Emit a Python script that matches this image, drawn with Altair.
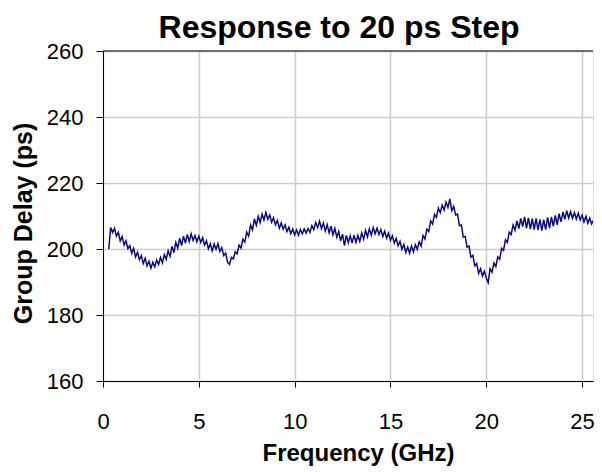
import altair as alt
import pandas as pd

title_text = "Response to 20 ps Step"
x_title = "Frequency (GHz)"
y_title = "Group Delay (ps)"
x_ticks = [0, 5, 10, 15, 20, 25]
y_ticks = [160, 180, 200, 220, 240, 260]
y_top = [260]

freq = [
    0.3, 0.4, 0.5, 0.6, 0.7, 0.8, 0.9,
    1.0, 1.1, 1.2, 1.3, 1.4, 1.5, 1.6, 1.7, 1.8, 1.9,
    2.0, 2.1, 2.2, 2.3, 2.4, 2.5, 2.6, 2.7, 2.8, 2.9,
    3.0, 3.1, 3.2, 3.3, 3.4, 3.5, 3.6, 3.7, 3.8, 3.9,
    4.0, 4.1, 4.2, 4.3, 4.4, 4.5, 4.6, 4.7, 4.8, 4.9,
    5.0, 5.1, 5.2, 5.3, 5.4, 5.5, 5.6, 5.7, 5.8, 5.9,
    6.0, 6.1, 6.2, 6.3, 6.4, 6.5, 6.6, 6.7, 6.8, 6.9,
    7.0, 7.1, 7.2, 7.3, 7.4, 7.5, 7.6, 7.7, 7.8, 7.9,
    8.0, 8.1, 8.2, 8.3, 8.4, 8.5, 8.6, 8.7, 8.8, 8.9,
    9.0, 9.1, 9.2, 9.3, 9.4, 9.5, 9.6, 9.7, 9.8, 9.9,
    10.0, 10.1, 10.2, 10.3, 10.4, 10.5, 10.6, 10.7, 10.8, 10.9,
    11.0, 11.1, 11.2, 11.3, 11.4, 11.5, 11.6, 11.7, 11.8, 11.9,
    12.0, 12.1, 12.2, 12.3, 12.4, 12.5, 12.6, 12.7, 12.8, 12.9,
    13.0, 13.1, 13.2, 13.3, 13.4, 13.5, 13.6, 13.7, 13.8, 13.9,
    14.0, 14.1, 14.2, 14.3, 14.4, 14.5, 14.6, 14.7, 14.8, 14.9,
    15.0, 15.1, 15.2, 15.3, 15.4, 15.5, 15.6, 15.7, 15.8, 15.9,
    16.0, 16.1, 16.2, 16.3, 16.4, 16.5, 16.6, 16.7, 16.8, 16.9,
    17.0, 17.1, 17.2, 17.3, 17.4, 17.5, 17.6, 17.7, 17.8, 17.9,
    18.0, 18.1, 18.2, 18.3, 18.4, 18.5, 18.6, 18.7, 18.8, 18.9,
    19.0, 19.1, 19.2, 19.3, 19.4, 19.5, 19.6, 19.7, 19.8, 19.9,
    20.0, 20.1, 20.2, 20.3, 20.4, 20.5, 20.6, 20.7, 20.8, 20.9,
    21.0, 21.1, 21.2, 21.3, 21.4, 21.5, 21.6, 21.7, 21.8, 21.9,
    22.0, 22.1, 22.2, 22.3, 22.4, 22.5, 22.6, 22.7, 22.8, 22.9,
    23.0, 23.1, 23.2, 23.3, 23.4, 23.5, 23.6, 23.7, 23.8, 23.9,
    24.0, 24.1, 24.2, 24.3, 24.4, 24.5, 24.6, 24.7, 24.8, 24.9,
    25.0, 25.1, 25.2, 25.3, 25.4, 25.5, 25.6, 25.7,
]

delay = [
    200.0, 206.5, 205.0, 206.3, 203.9, 205.0, 202.4,
    203.8, 201.2, 202.5, 200.1, 201.0, 198.7, 200.2, 197.6, 199.0, 196.8,
    198.0, 195.6, 197.2, 194.9, 196.3, 194.2, 196.0, 194.6, 196.6, 195.3,
    197.4, 195.8, 198.3, 196.9, 199.5, 197.8, 200.8, 198.9, 202.0, 200.3,
    203.3, 201.0, 203.9, 201.8, 204.4, 202.3, 204.6, 202.6, 204.1, 202.2,
    203.9, 202.0, 203.4, 201.2, 202.5, 200.1, 201.6, 199.4, 201.5, 199.9,
    201.6, 199.3, 200.4, 198.0, 198.8, 196.0, 195.3, 197.5, 197.0, 199.2,
    198.6, 201.2, 200.3, 203.0, 202.1, 205.1, 203.9, 207.2, 205.8, 209.1,
    207.2, 209.9, 208.0, 210.6, 208.8, 211.1, 209.0, 210.3, 208.1, 209.5,
    207.3, 208.7, 206.3, 207.9, 206.0, 207.3, 205.3, 206.6, 204.6, 206.0,
    204.3, 205.8, 204.2, 205.9, 204.6, 206.1, 204.8, 206.2, 205.0, 207.1,
    205.9, 208.0, 206.5, 208.4, 206.2, 207.9, 205.5, 207.4, 204.9, 206.9,
    204.3, 206.2, 203.6, 205.3, 202.5, 204.5, 201.0, 204.1, 202.0, 204.0,
    201.8, 204.2, 202.0, 204.1, 202.3, 204.9, 203.0, 205.6, 203.7, 206.1,
    204.2, 206.5, 204.6, 206.3, 204.4, 205.9, 203.8, 205.4, 203.3, 204.8,
    202.6, 204.0, 201.8, 203.2, 201.0, 202.3, 199.9, 201.4, 199.0, 200.6,
    198.7, 200.9, 199.2, 201.3, 199.9, 202.2, 200.9, 204.1, 203.0, 206.0,
    205.3, 208.5, 207.6, 210.5, 209.6, 212.4, 211.0, 213.3, 211.8, 214.2,
    212.6, 215.2, 211.6, 212.9, 210.3, 210.6, 207.1, 207.2, 203.6, 203.8,
    200.6, 200.9, 197.5, 198.1, 194.9, 195.6, 192.6, 194.0, 191.8, 193.3,
    191.2, 189.8, 194.0, 193.0, 195.8, 194.7, 197.6, 196.9, 200.2, 199.6,
    202.8, 202.0, 205.1, 204.4, 207.3, 205.7, 208.5, 206.2, 209.3, 206.8,
    209.7, 206.3, 209.4, 206.0, 209.2, 205.9, 209.3, 205.8, 209.0, 205.6,
    208.9, 205.9, 209.6, 206.3, 209.7, 206.9, 210.2, 207.3, 210.7, 208.2,
    211.2, 209.0, 211.6, 209.4, 211.3, 209.3, 211.0, 209.1, 210.9, 208.8,
    210.3, 208.2, 209.9, 207.8, 209.3, 207.6, 208.8, 207.9,
]

df = pd.DataFrame({"freq": freq, "delay": delay})
top_df = pd.DataFrame({"delay": y_top})

FONT = "Liberation Sans"

x_enc = alt.X(
    "freq:Q",
    scale=alt.Scale(domain=[0, 25.57], nice=False, zero=False),
    axis=alt.Axis(
        values=x_ticks,
        title=x_title,
        titleFontSize=24,
        titleFont=FONT,
        titleFontWeight="bold",
        titleColor="black",
        titleX=255,
        titleY=72,
        titleBaseline="middle",
        titleAlign="center",
        labelFontSize=22,
        labelFont=FONT,
        labelColor="black",
        labelPadding=24,
        tickSize=6,
        tickColor="black",
        domainColor="black",
        gridColor="#cccccc",
        gridWidth=1.5,
        labelFlush=False,
    ),
)

y_enc = alt.Y(
    "delay:Q",
    scale=alt.Scale(domain=[160, 260], nice=False, zero=False),
    axis=alt.Axis(
        values=y_ticks,
        title=y_title,
        titleFontSize=25,
        titleFont=FONT,
        titleFontWeight="bold",
        titleColor="black",
        titleAngle=270,
        titleX=-80,
        titleY=172,
        titleBaseline="middle",
        titleAlign="center",
        labelFontSize=22,
        labelFont=FONT,
        labelColor="black",
        labelPadding=13,
        tickSize=7,
        tickColor="black",
        domainColor="black",
        gridColor="#cccccc",
        gridWidth=1.5,
        labelFlush=False,
    ),
)

line = (
    alt.Chart(df)
    .mark_line(color="#0a0a80", strokeWidth=1.5, clip=True)
    .encode(x=x_enc, y=y_enc)
)

top_rule = (
    alt.Chart(top_df)
    .mark_rule(color="black", strokeWidth=1)
    .encode(y=alt.Y("delay:Q"))
)

chart = (
    alt.layer(line, top_rule)
    .properties(
        width=490,
        height=330,
        title=alt.TitleParams(
            text=title_text,
            font=FONT,
            fontSize=32,
            fontWeight="bold",
            color="black",
            anchor="middle",
            dx=-9,
            dy=9,
            offset=4,
        ),
        autosize=alt.AutoSizeParams(type="none"),
        padding={"left": 95, "top": 43, "right": 1, "bottom": 90},
    )
    .configure_view(stroke=None)
    .configure(background="white")
)

chart.save("out.html", embed_options={"renderer": "svg", "actions": False})
